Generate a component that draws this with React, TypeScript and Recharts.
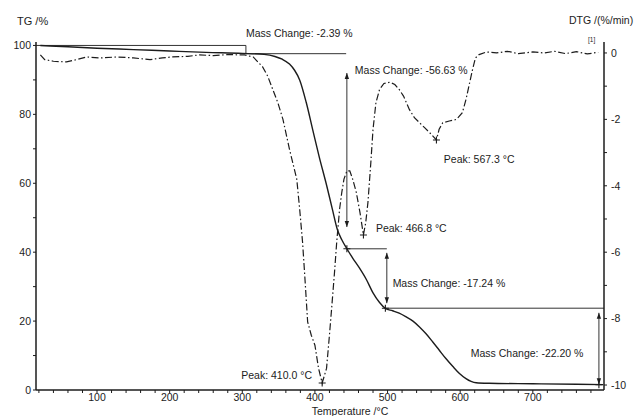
import { LineChart, Line, XAxis, YAxis, ReferenceLine, ReferenceDot } from "recharts";

// TG curve (solid line), residual mass in %
const tgTemp = [22, 60, 100, 150, 200, 250, 300, 330, 345, 355, 365, 372, 379, 388, 397, 406, 416, 424, 431, 437, 444, 452, 461, 471, 480, 489, 497, 507, 516, 525, 535, 544, 553, 562, 571, 580, 590, 599, 608, 615, 622, 640, 700, 760, 797];
const tgMass = [100, 99.6, 99.2, 98.8, 98.4, 98.0, 97.7, 97.4, 96.8, 96.0, 94.6, 92.8, 90, 83.5, 75.5, 67.6, 59.5, 52.5, 46.5, 43.6, 41.0, 38.3, 35.5, 32, 28.2, 25.4, 23.7, 23.0, 22.3, 21.3, 20.0, 18.3, 16.3, 14.0, 11.6, 9.2, 6.8, 4.8, 3.3, 2.5, 2.1, 1.95, 1.8, 1.65, 1.55];

// DTG curve (dash-dot line), %/min
const dtgTemp = [22, 28, 40, 58, 72, 86, 105, 127, 150, 173, 190, 204, 225, 241, 260, 280, 303, 315, 328, 335, 342, 349, 356, 365, 375, 379, 383, 386, 390, 395, 400, 405, 410, 416, 420, 423, 427, 430, 434, 437, 440, 444, 448, 452, 457, 462, 466.8, 470, 473, 477, 480, 484, 489, 495, 503, 510, 516, 522, 530, 537, 544, 551, 558, 567.3, 571, 576, 585, 595, 603, 608, 613, 617, 621, 626, 636, 650, 665, 680, 700, 715, 730, 745, 760, 775, 790];
const dtgRate = [-0.06, -0.2, -0.25, -0.27, -0.2, -0.12, -0.15, -0.12, -0.15, -0.2, -0.15, -0.12, -0.1, -0.06, -0.08, -0.05, -0.06, -0.12, -0.42, -0.7, -1.1, -1.5, -2.0, -2.9, -3.8, -4.7, -5.7, -6.7, -8.1, -8.5, -8.8, -9.5, -9.94, -9.5, -8.5, -7.7, -6.6, -5.7, -4.7, -4.2, -3.8, -3.55, -3.55, -3.8, -4.2, -4.8, -5.48, -5.1, -4.5, -3.3, -2.3, -1.5, -1.1, -0.92, -0.88, -0.95, -1.1, -1.3, -1.7, -1.95, -2.1, -2.25, -2.4, -2.62, -2.3, -2.1, -2.05, -2.0, -1.8, -1.4, -0.9, -0.5, -0.15, -0.05, 0.03, 0.0, 0.05, -0.02, 0.03, 0.0, 0.05, -0.02, 0.04, -0.03, 0.02];

// mass-change steps and DTG peaks
const massChanges = [-2.39, -56.63, -17.24, -22.2];
const stepTemps = [305, 444, 497, 791];
const peakTemps = [410.0, 466.8, 567.3];
const peakRates = [-9.94, -5.48, -2.62];

const tempTicks = [20, 40, 60, 80, 100, 120, 140, 160, 180, 200, 220, 240, 260, 280, 300, 320, 340, 360, 380, 400, 420, 440, 460, 480, 500, 520, 540, 560, 580, 600, 620, 640, 660, 680, 700, 720, 740, 760, 780];
const tgTicks = [0, 10, 20, 30, 40, 50, 60, 70, 80, 90, 100];
const dtgTicks = [-10, -9, -8, -7, -6, -5, -4, -3, -2, -1, 0];

const tgData = tgTemp.map((t, i) => ({ t, v: tgMass[i] }));
const dtgData = dtgTemp.map((t, i) => ({ t, v: dtgRate[i] }));

// levels after each step, starting from 100 %
const levels: number[] = [];
massChanges.reduce((acc, d) => {
  const next = +(acc + d).toFixed(2);
  levels.push(next);
  return next;
}, 100);

const ink = "#1c1c1c";
const font = "'Liberation Sans', Arial, sans-serif";

const cross = (p: any) => (
  <path
    d={`M${p.cx - 3.5},${p.cy}H${p.cx + 3.5}M${p.cx},${p.cy - 3.5}V${p.cy + 3.5}`}
    stroke={ink}
    strokeWidth={1.1}
  />
);

const doubleArrow = (p: any) => {
  const top = Math.min(p.y1, p.y2);
  const bot = Math.max(p.y1, p.y2);
  const x = p.x1;
  return (
    <g>
      <line x1={x} y1={top} x2={x} y2={bot} stroke={ink} strokeWidth={0.9} />
      <path d={`M${x - 2.2},${top + 6}L${x},${top}L${x + 2.2},${top + 6}Z`} fill={ink} />
      <path d={`M${x - 2.2},${bot - 6}L${x},${bot}L${x + 2.2},${bot - 6}Z`} fill={ink} />
    </g>
  );
};

const note = (text: string, anchor: "start" | "end" = "start") => (p: any) => (
  <text x={p.cx} y={p.cy} textAnchor={anchor} fontSize={10.5} fill={ink} fontFamily={font}>
    {text}
  </text>
);

const pct = (d: number) => `Mass Change: ${d.toFixed(2)} %`;

export default function App() {
  const segs: [number, number, number, number][] = [
    [16, 100, stepTemps[0], 100],
    [stepTemps[0], 100, stepTemps[0], levels[0]],
    [stepTemps[0], levels[0], 443, levels[0]],
    [stepTemps[1], levels[1], 499, levels[1]],
    [stepTemps[2], levels[2], 798, levels[2]],
  ];

  return (
    <div style={{ position: "absolute", left: 0, top: 0, width: 634, height: 416, background: "#fff", fontFamily: font }}>
      <LineChart width={634} height={416} margin={{ top: 42, right: 0, bottom: 0, left: 0 }}>
        <XAxis
          dataKey="t"
          type="number"
          domain={[16, 798]}
          allowDataOverflow
          ticks={tempTicks}
          interval={0}
          height={26}
          tickSize={3}
          tickMargin={1}
          stroke={ink}
          axisLine={{ stroke: ink, strokeWidth: 1.5 }}
          tick={{ fontSize: 10.5, fill: ink, fontFamily: font }}
          tickFormatter={(v) => (v % 100 === 0 ? String(v) : "")}
        />
        <YAxis
          yAxisId="tg"
          orientation="left"
          width={36}
          domain={[0, 101]}
          allowDataOverflow
          ticks={tgTicks}
          interval={0}
          tickSize={3}
          tickMargin={2}
          stroke={ink}
          axisLine={{ stroke: ink, strokeWidth: 1.5 }}
          tick={{ fontSize: 10.5, fill: ink, fontFamily: font }}
          tickFormatter={(v) => (v % 20 === 0 ? String(v) : "")}
        />
        <YAxis
          yAxisId="dtg"
          orientation="right"
          width={30}
          domain={[-10.15, 0.33]}
          allowDataOverflow
          ticks={dtgTicks}
          interval={0}
          tickSize={3}
          tickMargin={4}
          stroke={ink}
          axisLine={{ stroke: ink, strokeWidth: 1.5 }}
          tick={{ fontSize: 10.5, fill: ink, fontFamily: font, textAnchor: "start" }}
          tickFormatter={(v) => (v % 2 === 0 ? String(v) : "")}
        />

        {segs.map(([xa, ya, xb, yb], i) => (
          <ReferenceLine
            key={`s${i}`}
            yAxisId="tg"
            segment={[{ x: xa, y: ya }, { x: xb, y: yb }]}
            stroke={ink}
            strokeWidth={0.9}
            ifOverflow="visible"
          />
        ))}

        <ReferenceLine yAxisId="tg" segment={[{ x: 444, y: 92 }, { x: 444, y: 47.3 }]} shape={doubleArrow} />
        <ReferenceLine yAxisId="tg" segment={[{ x: 499, y: 39.8 }, { x: 499, y: 25.2 }]} shape={doubleArrow} />
        <ReferenceLine yAxisId="tg" segment={[{ x: stepTemps[3], y: 22.4 }, { x: stepTemps[3], y: 1.7 }]} shape={doubleArrow} />

        <Line
          data={dtgData}
          dataKey="v"
          yAxisId="dtg"
          type="linear"
          dot={false}
          stroke={ink}
          strokeWidth={1.2}
          strokeDasharray="7 2.5 1.5 2.5"
          isAnimationActive={false}
        />
        <Line
          data={tgData}
          dataKey="v"
          yAxisId="tg"
          type="monotone"
          dot={false}
          stroke={ink}
          strokeWidth={1.4}
          isAnimationActive={false}
        />

        {stepTemps.slice(1).map((t, i) => (
          <ReferenceDot key={`m${i}`} yAxisId="tg" x={t} y={levels[i + 1]} shape={cross} ifOverflow="visible" />
        ))}
        {peakTemps.map((t, i) => (
          <ReferenceDot key={`p${i}`} yAxisId="dtg" x={t} y={peakRates[i]} shape={cross} ifOverflow="visible" />
        ))}

        <ReferenceDot yAxisId="tg" x={305} y={102.4} shape={note(pct(massChanges[0]))} ifOverflow="visible" />
        <ReferenceDot yAxisId="tg" x={455} y={91.7} shape={note(pct(massChanges[1]))} ifOverflow="visible" />
        <ReferenceDot yAxisId="tg" x={507} y={29.9} shape={note(pct(massChanges[2]))} ifOverflow="visible" />
        <ReferenceDot yAxisId="tg" x={614.6} y={9.6} shape={note(pct(massChanges[3]))} ifOverflow="visible" />

        <ReferenceDot yAxisId="dtg" x={396} y={-9.82} shape={note(`Peak: ${peakTemps[0].toFixed(1)} °C`, "end")} ifOverflow="visible" />
        <ReferenceDot yAxisId="dtg" x={484} y={-5.39} shape={note(`Peak: ${peakTemps[1].toFixed(1)} °C`)} ifOverflow="visible" />
        <ReferenceDot yAxisId="dtg" x={577.5} y={-3.31} shape={note(`Peak: ${peakTemps[2].toFixed(1)} °C`)} ifOverflow="visible" />
      </LineChart>

      {/* axis titles */}
      <svg width={634} height={416} style={{ position: "absolute", left: 0, top: 0, pointerEvents: "none" }}>
        <text x={17} y={25} fontSize={11} fill={ink} fontFamily={font}>TG /%</text>
        <text x={569} y={24} fontSize={10.5} fill={ink} fontFamily={font}>DTG /(%/min)</text>
        <text x={588} y={42} fontSize={6.5} fill={ink} fontFamily={font}>[1]</text>
        <text x={350} y={415} fontSize={10.5} fill={ink} fontFamily={font} textAnchor="middle">Temperature /°C</text>
      </svg>
    </div>
  );
}
